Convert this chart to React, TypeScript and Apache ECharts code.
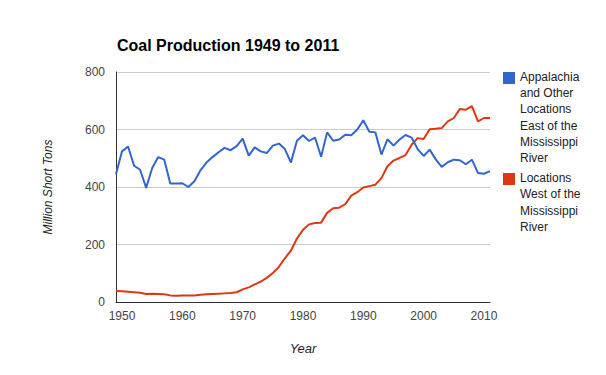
import React, { useEffect, useRef } from "react";
import * as echarts from "echarts";

const years: number[] = [];
for (let y = 1949; y <= 2011; y++) years.push(y);

const eastValues = [
  445, 524, 541, 474, 460, 397, 466, 504, 495, 412,
  412, 413, 400, 420, 458, 485, 504, 521, 536, 528,
  542, 568, 509, 538, 524, 518, 544, 551, 532, 485,
  561, 580, 560, 572, 505, 590, 561, 565, 582, 580,
  600, 632, 592, 590, 513, 566, 544, 565, 581, 572,
  532, 508, 530, 496, 470, 486, 495, 493, 479, 495,
  449, 446, 455,
];

const westValues = [
  38, 37, 36, 34, 32, 28, 29, 28, 27, 23,
  22, 23, 23, 23, 25, 27, 28, 29, 30, 31,
  34, 44, 51, 61, 71, 84, 101, 122, 152, 179,
  221, 251, 270, 275, 276, 310, 326, 328, 340, 370,
  382, 398, 403, 408, 431, 472, 492, 501, 511, 547,
  570, 567, 601, 603, 605, 628, 640, 671, 669, 681,
  628, 640, 640,
];

const seriesNames = [
  "Appalachia and Other Locations East of the Mississippi River",
  "Locations West of the Mississippi River",
];
const legendLines = [
  ["Appalachia", "and Other", "Locations", "East of the", "Mississippi", "River"],
  ["Locations", "West of the", "Mississippi", "River"],
];
const colors = ["#3366cc", "#dc3912"];
const yTicks = [0, 200, 400, 600, 800];

const FONT = 'Arial, "Liberation Sans", sans-serif';

export default function App() {
  const ref = useRef<HTMLDivElement>(null);
  useEffect(() => {
    if (!ref.current) return;
    const chart = echarts.init(ref.current, null, { renderer: "svg" });
    chart.setOption({
      animation: false,
      backgroundColor: "#ffffff",
      textStyle: { fontFamily: FONT },
      title: {
        text: "Coal Production 1949 to 2011",
        left: 112,
        top: 32,
        textStyle: { fontSize: 16, fontWeight: "bold", color: "#000", fontFamily: FONT },
      },
      grid: { left: 116, right: 116, top: 72, bottom: 73, containLabel: false },
      xAxis: {
        type: "category",
        data: years.map(String),
        boundaryGap: false,
        name: "Year",
        nameLocation: "middle",
        nameGap: 40,
        nameTextStyle: { fontStyle: "italic", fontSize: 13, color: "#222", fontFamily: FONT },
        axisLine: { show: true, lineStyle: { color: "#333", width: 1 } },
        axisTick: { show: false },
        axisLabel: {
          interval: (_i: number, v: string) => Number(v) % 10 === 0,
          color: "#444",
          fontSize: 12,
          margin: 8,
          fontFamily: FONT,
        },
        splitLine: { show: false },
      },
      yAxis: {
        type: "value",
        min: yTicks[0],
        max: yTicks[yTicks.length - 1],
        interval: 200,
        name: "Million Short Tons",
        nameLocation: "middle",
        nameGap: 62,
        nameTextStyle: { fontStyle: "italic", fontSize: 12, color: "#222", fontFamily: FONT },
        axisLine: { show: true, lineStyle: { color: "#333", width: 1 } },
        axisTick: { show: false },
        axisLabel: { color: "#444", fontSize: 12, margin: 11, fontFamily: FONT },
        splitLine: { show: true, lineStyle: { color: "#cccccc", width: 1 } },
      },
      series: [
        {
          name: seriesNames[0],
          type: "line",
          data: eastValues,
          showSymbol: false,
          lineStyle: { color: colors[0], width: 2 },
          itemStyle: { color: colors[0] },
          z: 3,
        },
        {
          name: seriesNames[1],
          type: "line",
          data: westValues,
          showSymbol: false,
          lineStyle: { color: colors[1], width: 2 },
          itemStyle: { color: colors[1] },
          z: 2,
        },
      ],
      graphic: [
        { type: "rect", shape: { x: 503, y: 72, width: 12, height: 12 }, style: { fill: colors[0] } },
        {
          type: "text",
          x: 520,
          y: 68.5,
          style: {
            text: legendLines[0].join("\n"),
            fill: "#222",
            font: `12px ${FONT}`,
            lineHeight: 16.3,
            verticalAlign: "top",
          },
        },
        { type: "rect", shape: { x: 503, y: 173, width: 12, height: 12 }, style: { fill: colors[1] } },
        {
          type: "text",
          x: 520,
          y: 170,
          style: {
            text: legendLines[1].join("\n"),
            fill: "#222",
            font: `12px ${FONT}`,
            lineHeight: 16.3,
            verticalAlign: "top",
          },
        },
      ],
    });
    return () => chart.dispose();
  }, []);
  return (
    <div
      ref={ref}
      style={{ position: "absolute", left: 0, top: 0, width: 606, height: 375 }}
    />
  );
}
